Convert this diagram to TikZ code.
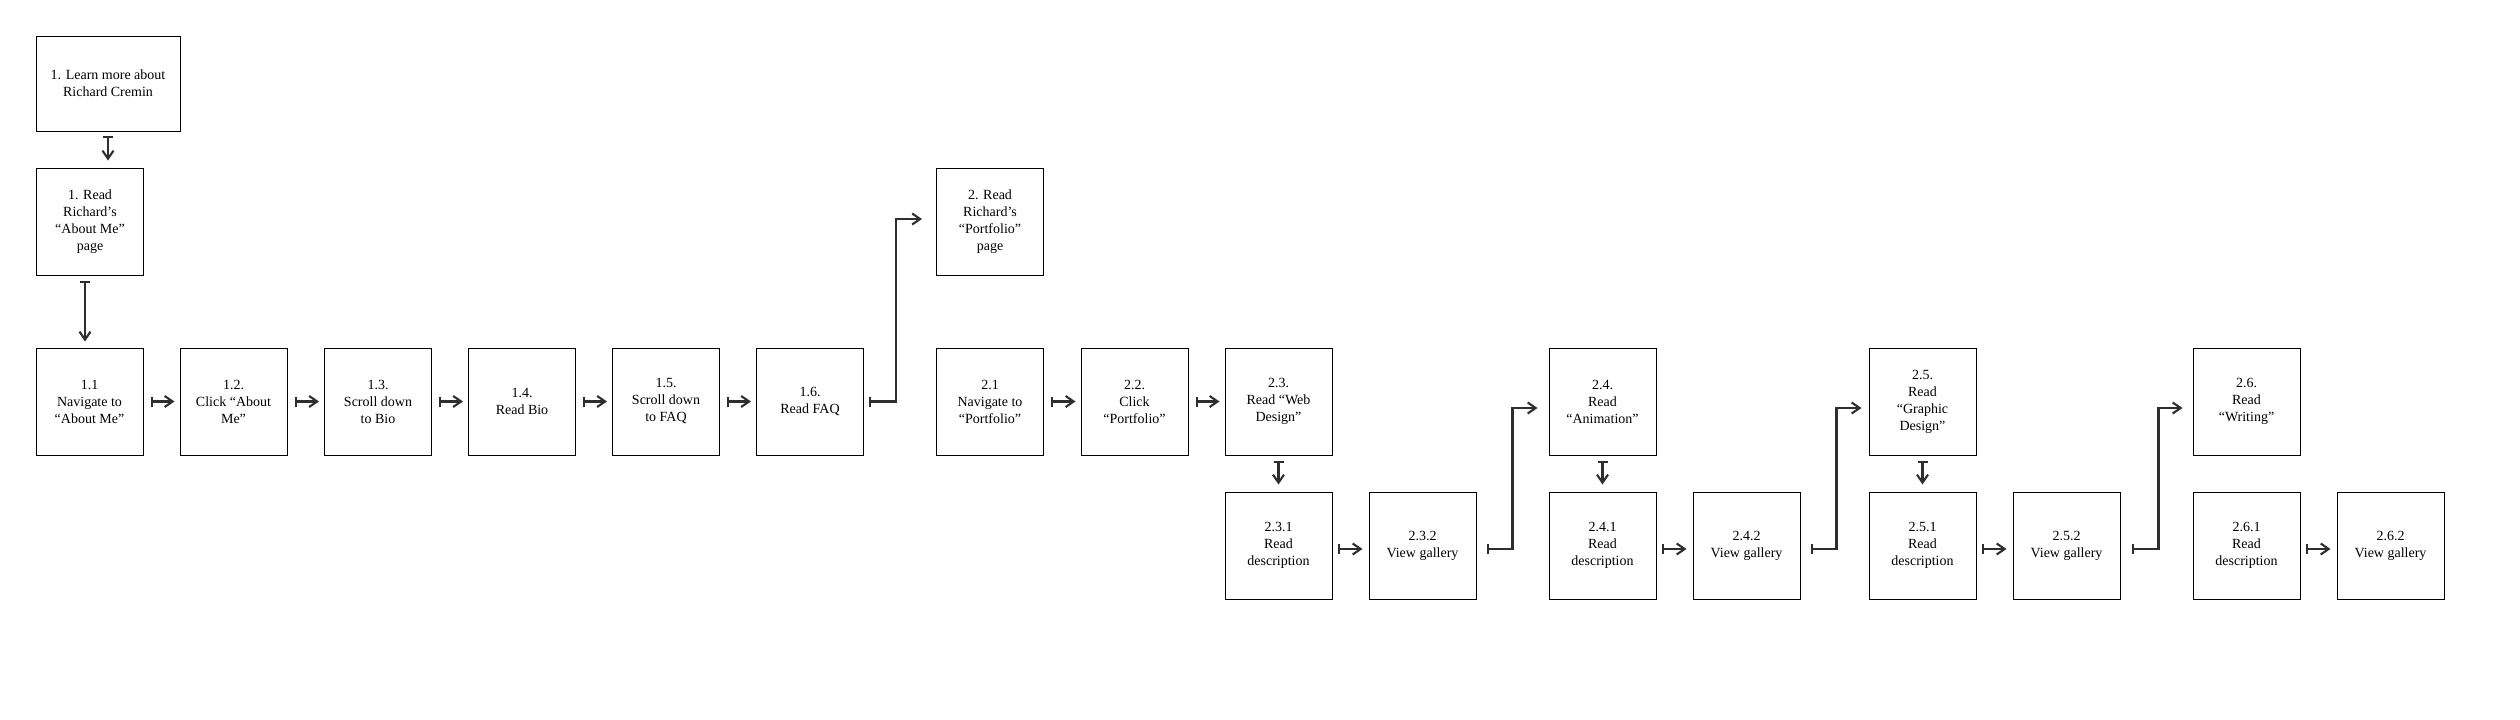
\documentclass[tikz,border=0pt]{standalone}
\usepackage{fontspec}
\setmainfont{Liberation Serif}
\usetikzlibrary{arrows.meta}
\definecolor{arrgray}{HTML}{2E2E2E}
\begin{document}
\begin{tikzpicture}[x=1pt,y=-1pt,
  box/.style={draw=black,line width=1pt,minimum width=107pt,minimum height=107pt,inner sep=0pt,align=center,font=\fontsize{14}{17}\selectfont},
  arr/.style={draw=arrgray,line width=2.1pt,{Bar[width=10pt,line width=2.1pt]}-{Straight Barb[length=8pt,width=11pt,line width=2.1pt]}}]
\useasboundingbox (0,0) rectangle (2520,720);
% top column
\node[box,minimum width=144pt,minimum height=95pt] (learn) at (108,83.5) {1. Learn more about\\Richard Cremin};
\node[box] (about) at (90,221.5) {1. Read\\Richard’s\\“About Me”\\page};
% row 1
\node[box] (n11) at (89.5,401.5) {1.1\\Navigate to\\“About Me”};
\node[box] (n12) at (233.5,401.5) {1.2.\\Click “About\\Me”};
\node[box] (n13) at (378,401.5) {1.3.\\Scroll down\\to Bio};
\node[box] (n14) at (522,401.5) {1.4.\\Read Bio};
\node[box] (n15) at (666,401.5) {1.5.\\Scroll down\\to FAQ};
\node[box] (n16) at (810,401.5) {1.6.\\Read FAQ};
% portfolio
\node[box] (port) at (990,221.5) {2. Read\\Richard’s\\“Portfolio”\\page};
\node[box] (n21) at (990,401.5) {2.1\\Navigate to\\“Portfolio”};
\node[box] (n22) at (1134.5,401.5) {2.2.\\Click\\“Portfolio”};
\node[box] (n23) at (1278.5,401.5) {2.3.\\Read “Web\\Design”};
\node[box] (n24) at (1602.5,401.5) {2.4.\\Read\\“Animation”};
\node[box] (n25) at (1922.5,401.5) {2.5.\\Read\\“Graphic\\Design”};
\node[box] (n26) at (2246.5,401.5) {2.6.\\Read\\“Writing”};
% row 3
\node[box] (n231) at (1278.5,545.5) {2.3.1\\Read\\description};
\node[box] (n232) at (1422.5,545.5) {2.3.2\\View gallery};
\node[box] (n241) at (1602.5,545.5) {2.4.1\\Read\\description};
\node[box] (n242) at (1746.5,545.5) {2.4.2\\View gallery};
\node[box] (n251) at (1922.5,545.5) {2.5.1\\Read\\description};
\node[box] (n252) at (2066.5,545.5) {2.5.2\\View gallery};
\node[box] (n261) at (2246.5,545.5) {2.6.1\\Read\\description};
\node[box] (n262) at (2390.5,545.5) {2.6.2\\View gallery};
% vertical arrows
\draw[arr] ([shift={(0,4)}]learn.south) -- ([shift={(18,-7)}]about.north);
\draw[arr] ([shift={(-5,5)}]about.south) -- ([shift={(-4.5,-6)}]n11.north);
\draw[arr] ([shift={(0,5)}]n23.south) -- ([shift={(0,-7)}]n231.north);
\draw[arr] ([shift={(0,5)}]n24.south) -- ([shift={(0,-7)}]n241.north);
\draw[arr] ([shift={(0,5)}]n25.south) -- ([shift={(0,-7)}]n251.north);
% row 1 and 2 arrows
\foreach \a/\b in {n11/n12,n12/n13,n13/n14,n14/n15,n15/n16,n21/n22,n22/n23}
  \draw[arr] ([xshift=7pt]\a.east) -- ([xshift=-5pt]\b.west);
% row 3 arrows
\foreach \a/\b in {n231/n232,n241/n242,n251/n252,n261/n262}
  \draw[arr] ([shift={(5,3.5)}]\a.east) -- ([shift={(-6,3.5)}]\b.west);
% elbows
\draw[arr] ([xshift=5pt]n16.east) -- ++(27,0) |- ([shift={(-14,-2.5)}]port.west);
\draw[arr] ([shift={(10,3.5)}]n232.east) -- ++(26,0) |- ([shift={(-11,6.5)}]n24.west);
\draw[arr] ([shift={(10,3.5)}]n242.east) -- ++(26,0) |- ([shift={(-7,6.5)}]n25.west);
\draw[arr] ([shift={(11,3.5)}]n252.east) -- ++(27,0) |- ([shift={(-10,6.5)}]n26.west);
\end{tikzpicture}
\end{document}
